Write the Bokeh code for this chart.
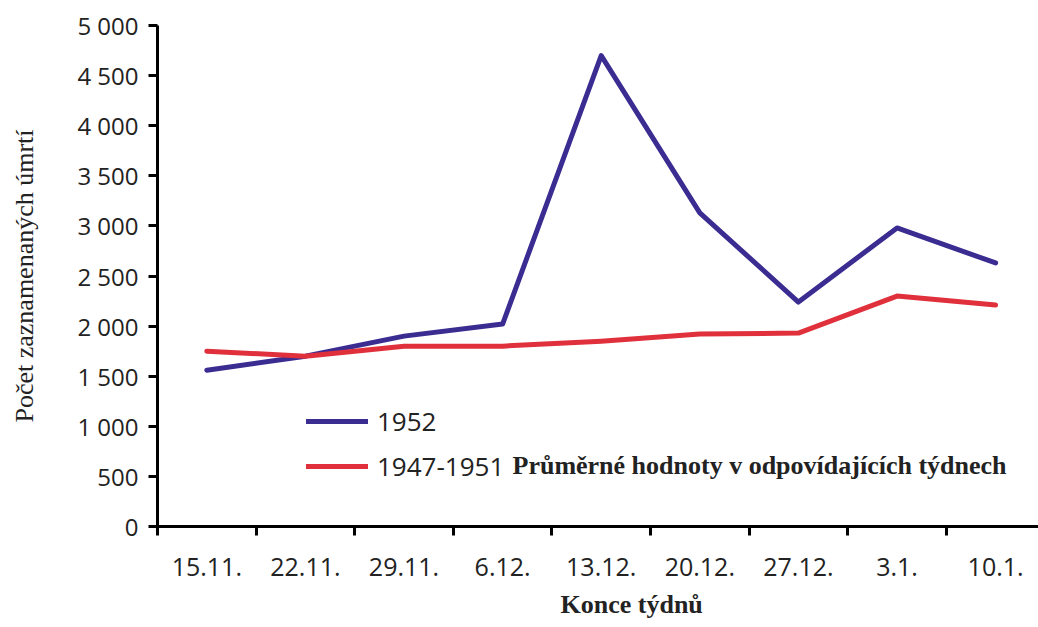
from bokeh.plotting import figure
from bokeh.models import (Range1d, FixedTicker, Legend, LegendItem, Label, Title,
                          ColumnDataSource)
from bokeh.embed import file_html
from bokeh.resources import INLINE

# ---- data ----
weeks = ["15.11.", "22.11.", "29.11.", "6.12.", "13.12.", "20.12.", "27.12.", "3.1.", "10.1."]
deaths_1952 = [1560, 1700, 1900, 2020, 4700, 3130, 2240, 2980, 2630]
avg_1947_1951 = [1750, 1700, 1800, 1800, 1850, 1920, 1930, 2300, 2210]
y_ticks = [0, 500, 1000, 1500, 2000, 2500, 3000, 3500, 4000, 4500, 5000]
y_tick_labels = ["0", "500", "1 000", "1 500", "2 000", "2 500", "3 000", "3 500", "4 000", "4 500", "5 000"]
series_names = ["1952", "1947-1951"]
note_text = "Průměrné hodnoty v odpovídajících týdnech"
x_title = "Konce týdnů"
y_title = "Počet zaznamenaných úmrtí"

xs = list(range(len(weeks)))
src = ColumnDataSource(dict(x=xs, a=deaths_1952, b=avg_1947_1951))

BLUE = "#3b2c92"
RED = "#e0303c"
SANS = "Open Sans"
SERIF = "Liberation Serif"

p = figure(width=1038, height=627, output_backend="svg", toolbar_location=None,
           x_range=Range1d(-0.5, 8.435), y_range=Range1d(0, 5000),
           min_border_left=157, min_border_right=0, min_border_top=25, min_border_bottom=101)
p.outline_line_color = None
p.xgrid.visible = False
p.ygrid.visible = False
p.background_fill_color = "white"
p.border_fill_color = "white"

r1 = p.line("x", "a", source=src, line_color=BLUE, line_width=5, line_join="round", line_cap="round")
r2 = p.line("x", "b", source=src, line_color=RED, line_width=5, line_join="round", line_cap="round")

# x axis
xa = p.xaxis[0]
xa.ticker = FixedTicker(ticks=xs, minor_ticks=[i - 0.5 for i in xs] + [len(xs) - 0.5])
xa.major_label_overrides = {i: w for i, w in zip(xs, weeks)}
xa.major_tick_out = 0
xa.major_tick_in = 0
xa.minor_tick_out = 9
xa.minor_tick_in = 0
xa.minor_tick_line_width = 3
xa.minor_tick_line_color = "black"
xa.axis_line_width = 3
xa.axis_line_color = "black"
xa.major_label_text_font = SANS
xa.major_label_text_font_size = "25px"
xa.major_label_text_color = "#222222"
xa.major_label_standoff = 22

# y axis
ya = p.yaxis[0]
ya.ticker = FixedTicker(ticks=y_ticks)
ya.major_label_overrides = {t: l for t, l in zip(y_ticks, y_tick_labels)}
ya.major_tick_out = 9
ya.major_tick_in = 0
ya.major_tick_line_width = 3
ya.minor_tick_line_color = None
ya.axis_line_width = 3
ya.axis_line_color = "black"
ya.major_label_text_font = SANS
ya.major_label_text_font_size = "24px"
ya.major_label_text_color = "#222222"
ya.major_label_standoff = 10
ya.axis_label = y_title
ya.axis_label_text_font = SERIF
ya.axis_label_text_font_style = "normal"
ya.axis_label_text_font_size = "26px"
ya.axis_label_text_color = "#222222"
ya.axis_label_standoff = 35

legend = Legend(items=[LegendItem(label=series_names[0], renderers=[r1]),
                       LegendItem(label=series_names[1], renderers=[r2])],
                location=(149, 38), orientation="vertical",
                label_text_font=SANS, label_text_font_size="26px", label_text_color="#222222",
                glyph_width=62, glyph_height=20, label_height=45, spacing=0,
                label_standoff=9, padding=0, margin=0,
                border_line_alpha=0, background_fill_alpha=0)
p.add_layout(legend, "center")

note = Label(x=355, y=61, x_units="screen", y_units="screen", text=note_text,
             text_font=SERIF, text_font_style="bold", text_font_size="26px",
             text_color="#222222", text_baseline="middle", text_align="left")
p.add_layout(note)

xtitle = Title(text=x_title, align="left", offset=403, standoff=18,
               text_font=SERIF, text_font_style="bold", text_font_size="26px",
               text_color="#222222")
p.add_layout(xtitle, "below")

open("out.html", "w").write(file_html(p, INLINE))
